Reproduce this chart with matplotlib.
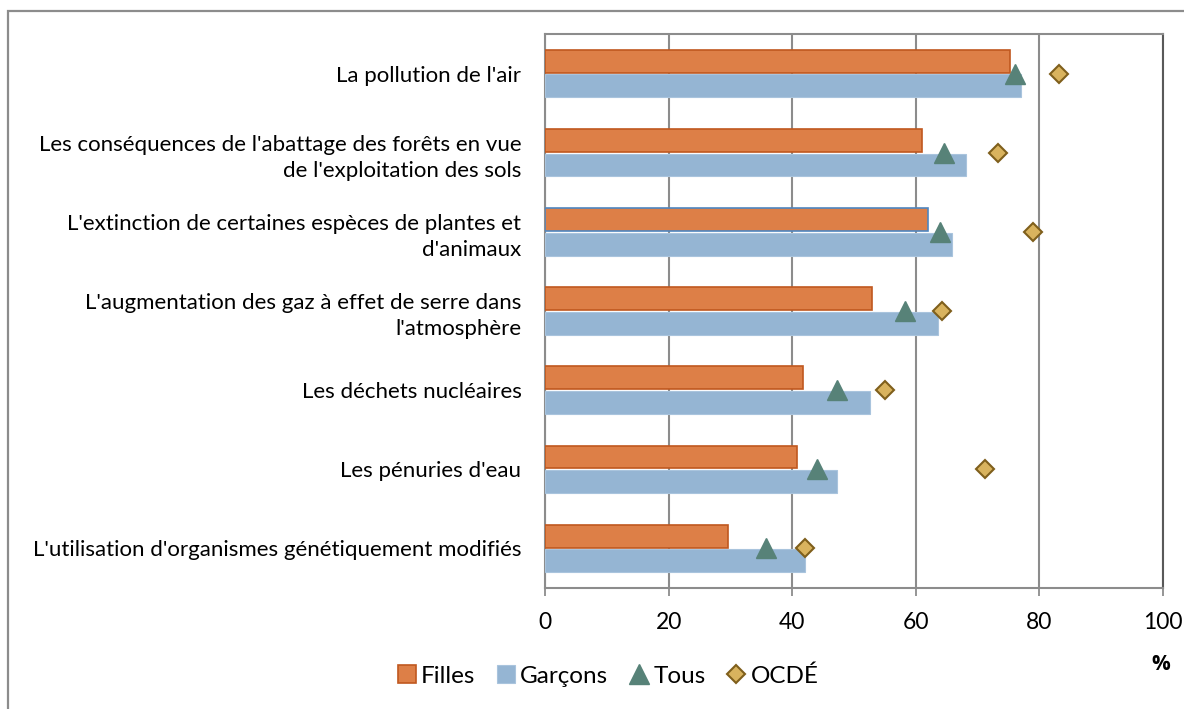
import matplotlib.pyplot as plt
from matplotlib.patches import Rectangle
import numpy as np

plt.rcParams['font.family'] = ['Lato', 'DejaVu Sans']

categories = [
    "La pollution de l'air",
    "Les conséquences de l'abattage des forêts en vue\nde l'exploitation des sols",
    "L'extinction de certaines espèces de plantes et\nd'animaux",
    "L'augmentation des gaz à effet de serre dans\nl'atmosphère",
    "Les déchets nucléaires",
    "Les pénuries d'eau",
    "L'utilisation d'organismes génétiquement modifiés",
]
filles = [75.3, 61.0, 62.0, 52.9, 41.8, 40.8, 29.6]
garcons = [77.0, 68.1, 65.8, 63.6, 52.6, 47.2, 42.0]
tous = [76.1, 64.5, 63.9, 58.2, 47.2, 44.0, 35.7]
ocde = [83.1, 73.3, 79.0, 64.2, 55.0, 71.2, 42.0]
xticks = [0, 20, 40, 60, 80, 100]

fig = plt.figure(figsize=(11.84, 7.09), dpi=100)
ax = fig.add_axes([545 / 1184, 1 - 588 / 709, 618 / 1184, 554 / 709])

# cadre exterieur du graphique
fig.patches.append(Rectangle((8 / 1184, -0.1), 1.2, 1.1 - 11 / 709,
                             transform=fig.transFigure, fill=False,
                             edgecolor='#8c8c8c', linewidth=1.6))

y = np.arange(len(categories))
h = 0.29
edge_f = ['#c0581f'] * len(categories)
edge_f[2] = '#4f86c0'
b1 = ax.barh(y - 0.155, filles, height=h, color='#dd7f47', edgecolor=edge_f,
             linewidth=1.2, label='Filles', zorder=3)
b2 = ax.barh(y + 0.155, garcons, height=h, color='#95b5d3', edgecolor='#a9c4dd',
             linewidth=0.8, label='Garçons', zorder=3)
m1, = ax.plot(tous, y, linestyle='none', marker='^', markersize=15,
              color='#578278', label='Tous', zorder=4)
m2, = ax.plot(ocde, y, linestyle='none', marker='D', markersize=9.5,
              markerfacecolor='#d9b35e', markeredgecolor='#7f5f1c',
              markeredgewidth=1.5, label='OCDÉ', zorder=5)

ax.set_xlim(0, 100)
ax.set_ylim(6.5, -0.5)
ax.set_xticks(xticks)
ax.set_yticks(y)
ax.set_yticklabels(categories, fontsize=16, linespacing=1.4)
ax.tick_params(axis='y', length=0, pad=17)
ax.tick_params(axis='x', length=6, width=1.3, color='#8c8c8c', labelsize=16.5, pad=11)

ax.grid(axis='x', color='#8c8c8c', linewidth=1.5, zorder=0)
for s in ['left', 'top', 'bottom']:
    ax.spines[s].set_color('#8c8c8c')
    ax.spines[s].set_linewidth(1.5)
ax.spines['right'].set_color('#595959')
ax.spines['right'].set_linewidth(1.5)

fig.text(1161 / 1184, 1 - 664 / 709, '%', fontsize=15, fontweight='bold',
         family=['Open Sans', 'DejaVu Sans'], ha='center', va='center')

fig.legend([b1, b2, m1, m2], ['Filles', 'Garçons', 'Tous', 'OCDÉ'],
           loc='center', bbox_to_anchor=(608 / 1184, 1 - 676 / 709),
           ncol=4, frameon=False, fontsize=17.5, handlelength=0.75,
           handleheight=0.75, handletextpad=0.2, columnspacing=0.9,
           markerscale=1.0)

fig.savefig('out.png', dpi=100)
